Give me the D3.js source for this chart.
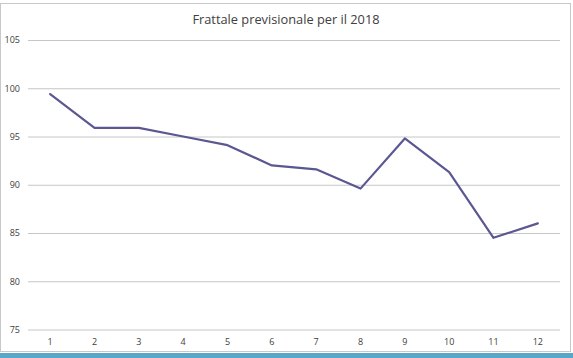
<!DOCTYPE html>
<html>
<head>
<meta charset="utf-8">
<script src="https://cdn.jsdelivr.net/npm/d3@7"></script>
<style>
html,body{margin:0;padding:0;background:#fff;}
svg{display:block;}
</style>
</head>
<body>
<svg id="c" width="573" height="358"></svg>
<script>
const title = "Frattale previsionale per il 2018";
const categories = ["1","2","3","4","5","6","7","8","9","10","11","12"];
const values = [99.4, 95.9, 95.9, 95.0, 94.1, 92.0, 91.6, 89.6, 94.8, 91.3, 84.5, 86.0];
const yTicks = [75, 80, 85, 90, 95, 100, 105];

(function(){
const svg = d3.select("#c");
const W = 573, H = 358;

// frame
svg.append("rect").attr("x",0).attr("y",0).attr("width",W).attr("height",H).attr("fill","#fff");
svg.append("rect").attr("x",0).attr("y",353).attr("width",W).attr("height",5).attr("fill","#5aa6c8");
svg.append("rect").attr("x",0.5).attr("y",3.5).attr("width",570).attr("height",348)
  .attr("fill","#fff").attr("stroke","#c8c8c8").attr("stroke-width",1);

const mLeft = 28, mRight = 560, mTop = 40, mBottom = 329.5;
const x = d3.scaleBand().domain(categories).range([mLeft, mRight]);
const y = d3.scaleLinear().domain([75, 105]).range([mBottom, mTop]);

// gridlines
const yAxis = d3.axisLeft(y).tickValues(yTicks).tickSize(-(mRight-mLeft)).tickPadding(8);
const gy = svg.append("g").attr("transform",`translate(${mLeft},0)`).call(yAxis);
gy.select(".domain").remove();
gy.selectAll(".tick line").attr("stroke","#c6c6c6").attr("stroke-width",1);
gy.selectAll(".tick text").attr("fill","#404040").attr("font-size","9px")
  .attr("font-family","'Open Sans', 'DejaVu Sans', sans-serif").attr("x",-8);

const xAxis = d3.axisBottom(x).tickSize(0).tickPadding(9);
const gx = svg.append("g").attr("transform",`translate(0,${mBottom})`).call(xAxis);
gx.select(".domain").remove();
gx.selectAll(".tick text").attr("fill","#404040").attr("font-size","9px")
  .attr("font-family","'Open Sans', 'DejaVu Sans', sans-serif");

// line
const line = d3.line()
  .x((d,i) => x(categories[i]) + x.bandwidth()/2)
  .y(d => y(d));
svg.append("path").datum(values).attr("d", line)
  .attr("fill","none").attr("stroke","#5b5791").attr("stroke-width",2.2)
  .attr("stroke-linejoin","round").attr("stroke-linecap","round");

// title
svg.append("text").attr("x",286).attr("y",24).attr("text-anchor","middle")
  .attr("fill","#404040").attr("font-size","12.8px")
  .attr("font-family","'Open Sans', 'DejaVu Sans', sans-serif")
  .text(title);
})();
</script>
</body>
</html>
